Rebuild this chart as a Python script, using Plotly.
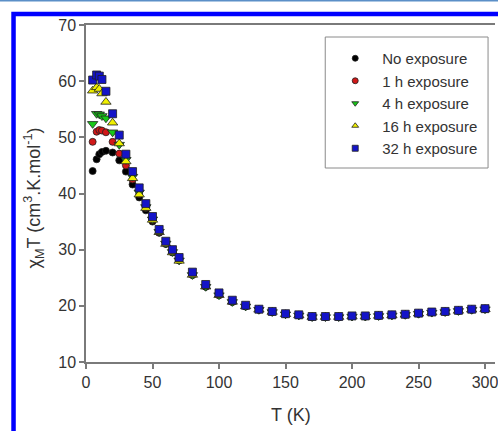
import plotly.graph_objects as go

# ---- data ----
T = [5, 8, 10, 12, 15, 20, 25, 30, 35, 40, 45, 50, 55, 60, 65, 70,
     80, 90, 100, 110, 120, 130, 140, 150, 160, 170, 180, 190, 200,
     210, 220, 230, 240, 250, 260, 270, 280, 290, 300]

no_exposure = [44.0, 46.1, 47.0, 47.4, 47.6, 47.3, 45.9, 43.9, 41.6, 39.3, 37.0, 35.0,
               33.0, 31.0, 29.5, 28.1, 25.5, 23.4, 21.9, 20.7, 19.9, 19.3, 18.9, 18.5,
               18.3, 18.0, 18.0, 18.0, 18.1, 18.1, 18.2, 18.3, 18.4, 18.6, 18.8, 18.9,
               19.1, 19.3, 19.4]
h1_exposure = [49.2, 51.0, 51.3, 51.2, 50.9, 49.2, 47.1, 45.0, 42.5, 39.9, 37.4, 35.3,
               33.1, 31.1, 29.6, 28.1, 25.5, 23.4, 21.9, 20.7, 19.9, 19.3, 18.9, 18.5,
               18.3, 18.0, 18.0, 18.0, 18.1, 18.1, 18.2, 18.3, 18.4, 18.6, 18.8, 18.9,
               19.1, 19.3, 19.4]
h4_exposure = [52.4, 54.2, 54.1, 53.8, 53.4, 50.9, 48.7, 46.0, 43.0, 40.2, 37.6, 35.4,
               33.2, 31.1, 29.6, 28.1, 25.5, 23.4, 21.9, 20.7, 19.9, 19.3, 18.9, 18.5,
               18.3, 18.0, 18.0, 18.0, 18.1, 18.1, 18.2, 18.3, 18.4, 18.6, 18.8, 18.9,
               19.1, 19.3, 19.4]
h16_exposure = [58.3, 58.9, 58.6, 57.8, 56.3, 52.6, 48.9, 45.7, 42.7, 39.8, 37.4, 35.3,
                33.1, 31.0, 29.5, 28.0, 25.5, 23.4, 21.9, 20.7, 19.9, 19.3, 18.9, 18.5,
                18.3, 18.0, 18.0, 18.0, 18.1, 18.1, 18.2, 18.3, 18.4, 18.6, 18.8, 18.9,
                19.1, 19.3, 19.4]
h32_exposure = [60.2, 61.1, 60.9, 60.3, 58.2, 54.2, 50.4, 47.0, 43.9, 41.0, 38.2, 35.9,
                33.6, 31.5, 30.0, 28.6, 26.0, 23.8, 22.3, 21.0, 20.1, 19.4, 19.0, 18.6,
                18.4, 18.1, 18.1, 18.1, 18.2, 18.2, 18.3, 18.4, 18.5, 18.7, 18.9, 19.0,
                19.2, 19.4, 19.5]

names = ["No exposure", "1 h exposure", "4 h exposure", "16 h exposure", "32 h exposure"]
series = [no_exposure, h1_exposure, h4_exposure, h16_exposure, h32_exposure]
colors = ["#000000", "#d01818", "#18c818", "#f0f000", "#1414c8"]
symbols = ["circle", "circle", "triangle-down", "triangle-up", "square"]
sizes = [7, 7, 9, 9, 8]

fig = go.Figure()
for name, ys, c, s, sz in zip(names, series, colors, symbols, sizes):
    fig.add_trace(go.Scatter(
        x=T, y=ys, mode="markers", name=name, showlegend=False,
        marker=dict(color=c, symbol=s, size=sz, line=dict(color="#202020", width=0.8)),
    ))
for name, c, s in zip(names, colors, symbols):
    fig.add_trace(go.Scatter(
        x=[None], y=[None], mode="markers", name=name, showlegend=True,
        marker=dict(color=c, symbol=s, size=6, line=dict(color="#202020", width=0.8)),
    ))

font = "Liberation Sans, Arial, sans-serif"
axis_common = dict(
    showline=True, linecolor="#7a7a7a", linewidth=1.5,
    ticks="outside", ticklen=5, tickcolor="#7a7a7a", tickwidth=1.5,
    showgrid=False, zeroline=False, ticklabeloverflow="allow",
    tickfont=dict(family=font, size=16, color="#333333"),
)
fig.update_xaxes(range=[0, 307.5], tickvals=[0, 50, 100, 150, 200, 250, 300],
                 mirror=True, **axis_common)
fig.update_yaxes(range=[10, 70], tickvals=[10, 20, 30, 40, 50, 60, 70], **axis_common)

W, H = 498, 431
L, R, TOP, B = 86, 0, 25, 69
pw, ph = W - L - R, H - TOP - B

def px(xp):
    return (xp - L) / pw

def py(yp):
    return (H - B - yp) / ph

shapes = [
    dict(type="line", xref="paper", yref="paper", x0=-0.3, x1=1.2, y0=py(0.8), y1=py(0.8),
         line=dict(color="#5b8fc7", width=1.6)),
    dict(type="rect", xref="paper", yref="paper", x0=px(13), x1=px(560), y0=py(500), y1=py(14),
         line=dict(color="#0000ff", width=4.5), fillcolor="rgba(0,0,0,0)"),
    dict(type="rect", xref="paper", yref="paper", x0=px(327), x1=px(491), y0=py(168), y1=py(37),
         line=dict(color="#8a8a8a", width=1), fillcolor="white", layer="below"),
]

annotations = [
    dict(text="χ<sub>M</sub>T (cm<sup>3</sup>.K.mol<sup>-1</sup>)", textangle=-90,
         xref="paper", yref="paper", x=px(33), y=py(198), xanchor="center", yanchor="middle",
         showarrow=False, font=dict(family=font, size=18, color="#333333")),
    dict(text="T (K)", xref="paper", yref="paper", x=0.5, y=py(415),
         xanchor="center", yanchor="middle", showarrow=False,
         font=dict(family=font, size=18, color="#333333")),
]

fig.update_layout(
    width=W, height=H,
    margin=dict(l=L, r=R, t=TOP, b=B, pad=0),
    paper_bgcolor="white", plot_bgcolor="white",
    shapes=shapes, annotations=annotations,
    legend=dict(x=px(330), y=py(42), xanchor="left", yanchor="top",
                bgcolor="rgba(0,0,0,0)", borderwidth=0,
                font=dict(family=font, size=15, color="#333333"),
                tracegroupgap=0, itemsizing="trace", itemwidth=44),
    showlegend=True,
)

fig.write_html("out.html")
